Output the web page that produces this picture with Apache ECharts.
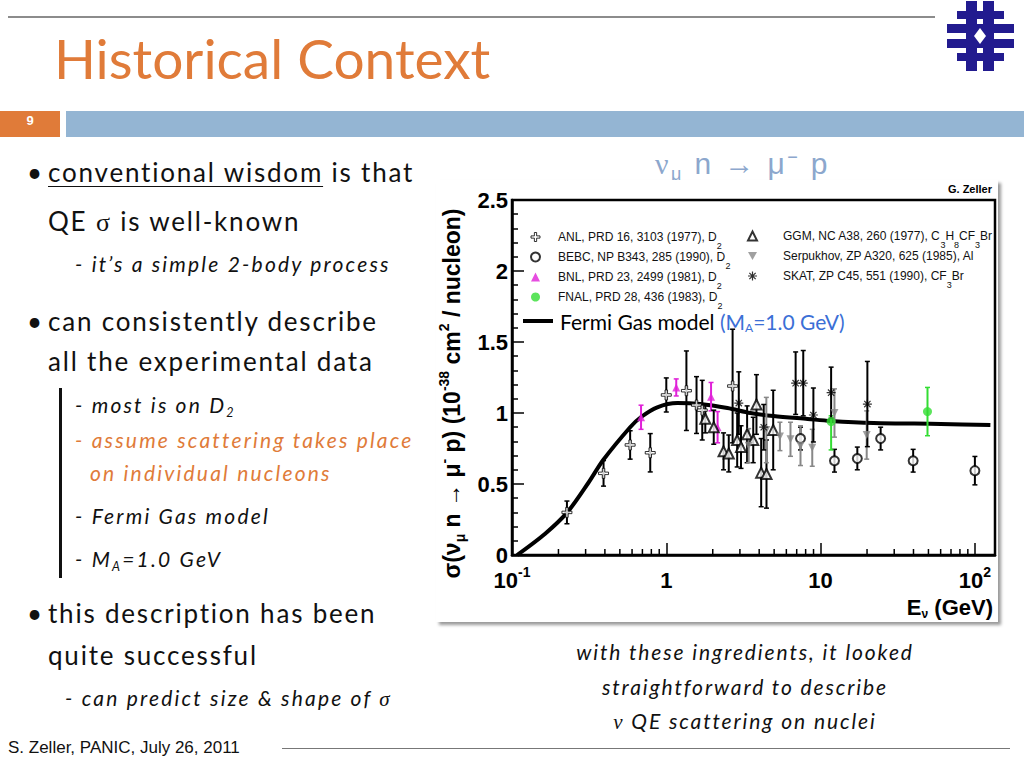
<!DOCTYPE html>
<html><head><meta charset="utf-8">
<script src="https://cdn.jsdelivr.net/npm/echarts@6/dist/echarts.min.js"></script>
<style>
html,body{margin:0;padding:0;width:1024px;height:768px;overflow:hidden;background:#fff;}
.a{position:absolute;white-space:nowrap;font-family:Lato,sans-serif;color:#111;}
.b{font-size:26px;line-height:30px;letter-spacing:1.8px;}
.i{font-size:21px;line-height:26px;font-style:italic;letter-spacing:2.2px;}
.o{color:#e07b39;}
.cap{font-size:21px;line-height:28px;font-style:italic;letter-spacing:1.9px;width:420px;left:535px;text-align:center;}
sub{font-size:60%;vertical-align:-0.35em;line-height:0;}
sup{font-size:60%;vertical-align:0.6em;line-height:0;}
.serif{font-family:"Liberation Serif",serif;}
</style></head><body>
<!-- slide decoration -->
<div style="position:absolute;left:8px;top:16px;width:927px;height:2px;background:#8c8c8c"></div>
<div class="a" style="left:54px;top:25px;font-size:55px;line-height:66px;color:#e07b39;">Historical Context</div>
<svg style="position:absolute;left:940px;top:0" width="84" height="75" viewBox="940 0 84 75">
  <g fill="#221b8f">
    <rect x="966" y="1" width="11" height="70"/>
    <rect x="983" y="1" width="11" height="70"/>
    <rect x="957" y="11" width="47" height="8"/>
    <rect x="947" y="24" width="67" height="9"/>
    <rect x="947" y="39" width="67" height="9"/>
    <rect x="957" y="53" width="47" height="8"/>
  </g>
  <path d="M980 28 L986 36 L980 44 L974 36 Z" fill="#fff"/>
</svg>
<div style="position:absolute;left:0;top:111px;width:60px;height:26px;background:#e07b39"></div>
<div class="a" style="left:0;top:111px;width:60px;text-align:center;font-family:'Liberation Sans';font-weight:bold;font-size:13px;line-height:20px;color:#fff">9</div>
<div style="position:absolute;left:66px;top:111px;width:958px;height:26px;background:#94b5d3"></div>

<!-- left text -->
<div class="a b" style="left:27px;top:157px">•</div>
<div class="a b" style="left:48px;top:157px"><u style="text-underline-offset:4px;text-decoration-thickness:1px">conventional wisdom</u> is that</div>
<div class="a b" style="left:48px;top:206px">QE <span class="serif">σ</span> is well-known</div>
<div class="a i" style="left:75px;top:251px">- it’s a simple 2-body process</div>
<div class="a b" style="left:27px;top:306px">•</div>
<div class="a b" style="left:48px;top:306px">can consistently describe</div>
<div class="a b" style="left:48px;top:346px">all the experimental data</div>
<div style="position:absolute;left:59px;top:388px;width:3px;height:190px;background:#111"></div>
<div class="a i" style="left:75px;top:392px">- most is on D<sub>2</sub></div>
<div class="a i o" style="left:75px;top:427px">- assume scattering takes place</div>
<div class="a i o" style="left:90px;top:460px">on individual nucleons</div>
<div class="a i" style="left:75px;top:503px">- Fermi Gas model</div>
<div class="a i" style="left:75px;top:546px">- M<sub>A</sub>=1.0 GeV</div>
<div class="a b" style="left:27px;top:598px">•</div>
<div class="a b" style="left:48px;top:598px">this description has been</div>
<div class="a b" style="left:48px;top:640px">quite successful</div>
<div class="a i" style="left:65px;top:685px">- can predict size &amp; shape of <span class="serif">σ</span></div>
<div class="a" style="left:8px;top:737px;font-family:'Liberation Sans';font-size:17px;line-height:22px">S. Zeller, PANIC, July 26, 2011</div>
<div style="position:absolute;left:282px;top:748px;width:728px;height:1px;background:#777"></div>

<!-- right caption -->
<div class="a cap" style="top:638px">with these ingredients, it looked</div>
<div class="a cap" style="top:673px">straightforward to describe</div>
<div class="a cap" style="top:707px"><span class="serif">ν</span> QE scattering on nuclei</div>

<!-- chart title -->
<div class="a" style="left:655px;top:146px;font-family:'Liberation Sans';font-size:30px;line-height:36px;letter-spacing:2.4px;color:#8ca7cd"><span class="serif">ν</span><sub>μ</sub> n → μ<sup>−</sup> p</div>

<div id="chart" style="position:absolute;left:436px;top:180px;width:562px;height:442px;background:#fff;box-shadow:3px 3px 3px #9a9a9a;"></div>

<script>
// ---------- data ----------
// ANL, PRD 16, 3103 (1977), D2  (open cross)
const anlE   = [0.227, 0.392, 0.583, 0.787, 1.00, 1.35, 1.57, 1.71, 2.69];
const anlS   = [0.30, 0.575, 0.775, 0.72, 1.127, 1.157, 1.056, 1.02, 1.19];
const anlErr = [0.08, 0.09, 0.10, 0.135, 0.12, 0.28, 0.20, 0.21, 0.40];
// BEBC, NP B343, 285 (1990), D2  (open circle)
const bebcE   = [7.41, 12.3, 17.3, 24.5, 39.8, 100];
const bebcS   = [0.82, 0.664, 0.68, 0.82, 0.664, 0.594];
const bebcErr = [0.08, 0.08, 0.08, 0.08, 0.08, 0.10];
// BNL, PRD 23, 2499 (1981), D2  (magenta triangle)
const bnlE   = [0.686, 1.16, 1.95, 2.15];
const bnlS   = [0.97, 1.18, 1.115, 0.90];
const bnlErr = [0.085, 0.06, 0.10, 0.11];
// FNAL, PRD 28, 436 (1983), D2  (green circle)
const fnalE     = [11.7, 49.3];
const fnalS     = [0.94, 1.01];
const fnalErrLo = [0.20, 0.17];
const fnalErrHi = [0.04, 0.17];
// GGM, NC A38, 260 (1977), C3H8CF3Br  (open triangle)
const ggmE   = [1.79, 2.03, 2.35, 2.54, 2.88, 3.05, 3.34, 3.66, 3.84, 4.12, 4.46, 4.93];
const ggmS   = [0.96, 0.90, 0.73, 0.715, 0.81, 0.76, 0.85, 0.81, 1.06, 0.58, 0.57, 0.88];
const ggmErr = [0.10, 0.12, 0.13, 0.13, 0.19, 0.15, 0.20, 0.16, 0.21, 0.24, 0.24, 0.28];
// Serpukhov, ZP A320, 625 (1985), Al  (grey inverted triangle)
const serpE   = [3.42, 4.45, 5.45, 6.38, 7.41, 8.83, 12.3, 19.9];
const serpS   = [0.77, 0.88, 0.835, 0.815, 0.77, 0.755, 1.0, 0.845];
const serpErr = [0.12, 0.23, 0.10, 0.12, 0.14, 0.13, 0.17, 0.17];
// SKAT, ZP C45, 551 (1990), CF3Br  (asterisk)
const skatE   = [2.95, 4.28, 6.89, 7.72, 8.98, 11.7, 20.1];
const skatS   = [1.07, 0.90, 1.21, 1.21, 0.986, 1.143, 1.063];
const skatErr = [0.22, 0.16, 0.22, 0.23, 0.19, 0.18, 0.30];
// Fermi Gas model (MA = 1.0 GeV)
const fgE = [0.108, 0.164, 0.228, 0.312, 0.39, 0.583, 0.683, 0.874, 1.18, 1.66, 2.49, 3.51, 4.95, 8.24, 11.6, 22.1, 60, 126];
const fgS = [0, 0.15, 0.30, 0.507, 0.669, 0.90, 0.97, 1.04, 1.07, 1.063, 1.035, 1.0, 0.979, 0.958, 0.944, 0.93, 0.923, 0.915];
// axis ticks
const yTicks = [0, 0.5, 1, 1.5, 2, 2.5];
const xDecades = [0.1, 1, 10, 100];
const xTickLabels = ['{m|10}{sup|-1}', '{m|1}', '{m|10}', '{m|10}{sup|2}'];
const minorMult = [2, 3, 4, 5, 6, 7, 8, 9];

// ---------- build ----------
const tuples = (E, S, lo, hi) => E.map((e, i) => [e, S[i], lo[i], (hi || lo)[i]]);
function errSeries(data, color) {
  return {
    type: 'custom', silent: true, z: 3, data: data, encode: {x: 0, y: 1},
    renderItem: function (params, api) {
      const x = api.value(0), y = api.value(1), lo = api.value(2), hi = api.value(3);
      const p1 = api.coord([x, y - lo]), p2 = api.coord([x, y + hi]);
      const w = 2.5;
      return {type: 'group', children: [
        {type: 'line', shape: {x1: p1[0], y1: p1[1], x2: p2[0], y2: p2[1]}, style: {stroke: color, lineWidth: 2}},
        {type: 'line', shape: {x1: p1[0] - w, y1: p1[1], x2: p1[0] + w, y2: p1[1]}, style: {stroke: color, lineWidth: 1.5}},
        {type: 'line', shape: {x1: p2[0] - w, y1: p2[1], x2: p2[0] + w, y2: p2[1]}, style: {stroke: color, lineWidth: 1.5}}
      ]};
    }
  };
}
const crossPath = 'path://M3,0 L5,0 L5,3 L8,3 L8,5 L5,5 L5,8 L3,8 L3,5 L0,5 L0,3 L3,3 Z';
const starPath = 'path://M0,5 L10,5 M5,0 L5,10 M1.5,1.5 L8.5,8.5 M8.5,1.5 L1.5,8.5';
const downTriPath = 'path://M0,0 L10,0 L5,9 Z';

const sets = [
  {name: 'ANL', data: tuples(anlE, anlS, anlErr), bar: '#000', symbol: crossPath, size: 10, style: {color: '#fff', borderColor: '#000', borderWidth: 1}},
  {name: 'BEBC', data: tuples(bebcE, bebcS, bebcErr), bar: '#000', symbol: 'emptyCircle', size: 9, style: {color: '#000', borderWidth: 1.2}},
  {name: 'BNL', data: tuples(bnlE, bnlS, bnlErr), bar: '#e020d8', symbol: 'triangle', size: 8, style: {color: '#e020d8'}},
  {name: 'FNAL', data: tuples(fnalE, fnalS, fnalErrLo, fnalErrHi), bar: '#33dd33', symbol: 'circle', size: 9, style: {color: '#33dd33'}},
  {name: 'GGM', data: tuples(ggmE, ggmS, ggmErr), bar: '#000', symbol: 'emptyTriangle', size: 10, style: {color: '#000', borderWidth: 1.1}},
  {name: 'Serpukhov', data: tuples(serpE, serpS, serpErr), bar: '#888', symbol: downTriPath, size: 8, style: {color: '#888'}},
  {name: 'SKAT', data: tuples(skatE, skatS, skatErr), bar: '#000', symbol: starPath, size: 9, style: {color: 'rgba(0,0,0,0)', borderColor: '#000', borderWidth: 1.2}}
];
const legendText = {
  ANL: 'ANL, PRD 16, 3103 (1977), D{s|2}',
  BEBC: 'BEBC, NP B343, 285 (1990), D{s|2}',
  BNL: 'BNL, PRD 23, 2499 (1981), D{s|2}',
  FNAL: 'FNAL, PRD 28, 436 (1983), D{s|2}',
  GGM: 'GGM, NC A38, 260 (1977), C{s|3}H{s|8}CF{s|3}Br',
  Serpukhov: 'Serpukhov, ZP A320, 625 (1985), Al',
  SKAT: 'SKAT, ZP C45, 551 (1990), CF{s|3}Br',
  Fermi: 'Fermi Gas model {bl|(M}{bs|A}{bl|=1.0 GeV)}'
};
const legendItem = s => ({name: s.name, icon: s.symbol, itemStyle: {color: s.style.color, borderColor: s.style.borderColor || s.style.color, borderWidth: s.style.borderWidth || 0}});

const series = [{
  name: 'Fermi', type: 'line', data: fgE.map((e, i) => [e, fgS[i]]), symbol: 'none', smooth: 0.3, z: 2,
  lineStyle: {color: '#000', width: 4}, itemStyle: {color: '#000'}, silent: true
}, {
  type: 'custom', silent: true, z: 5,
  data: xDecades.slice(0, 3).flatMap(d => minorMult.map(m => [d * m, 0])),
  encode: {x: 0, y: 1},
  renderItem: function (params, api) {
    const p = api.coord([api.value(0), 0]);
    return {type: 'line', shape: {x1: p[0], y1: p[1], x2: p[0], y2: p[1] - 6}, style: {stroke: '#000', lineWidth: 1.5}};
  }
}];
sets.forEach(s => {
  series.push(errSeries(s.data, s.bar));
  series.push({name: s.name, type: 'scatter', data: s.data, encode: {x: 0, y: 1}, symbol: s.symbol,
    symbolSize: s.size, itemStyle: s.style, z: 4, silent: true});
});

const legendBase = {
  orient: 'vertical', padding: 0, itemWidth: 9, itemHeight: 9, itemGap: -6, selectedMode: false,
  formatter: n => legendText[n],
  textStyle: {fontFamily: 'Liberation Sans', fontSize: 12, lineHeight: 26, color: '#111',
    rich: {s: {fontFamily: 'Liberation Sans', fontSize: 9, lineHeight: 8, verticalAlign: 'bottom', color: '#111'}}}
};
const chart = echarts.init(document.getElementById('chart'), null, {renderer: 'svg'});
chart.setOption({
  animation: false,
  grid: {left: 76, top: 20, width: 483, height: 355, show: true, borderColor: '#000', borderWidth: 2.5,
    backgroundColor: 'transparent', containLabel: false, outerBoundsMode: 'none'},
  xAxis: {
    type: 'log', logBase: 10, min: 0.1, max: 135, splitNumber: 3,
    axisLine: {lineStyle: {color: '#000', width: 2.5}},
    axisTick: {inside: true, length: 12, lineStyle: {color: '#000', width: 1.5}},
    splitLine: {show: false},
    axisLabel: {
      margin: 10, color: '#000',
      formatter: v => { const k = xDecades.findIndex(d => Math.abs(Math.log10(v) - Math.log10(d)) < 1e-6); return k < 0 ? '' : xTickLabels[k]; },
      rich: {
        m: {fontFamily: 'Liberation Sans', fontWeight: 'bold', fontSize: 22, lineHeight: 26, verticalAlign: 'bottom', color: '#000'},
        sup: {fontFamily: 'Liberation Sans', fontWeight: 'bold', fontSize: 14, lineHeight: 14, verticalAlign: 'top', color: '#000'}
      }
    }
  },
  yAxis: {
    type: 'value', min: yTicks[0], max: yTicks[yTicks.length - 1], interval: 0.5,
    axisLine: {lineStyle: {color: '#000', width: 2.5}},
    axisTick: {inside: true, length: 12, lineStyle: {color: '#000', width: 1.5}},
    minorTick: {show: true, splitNumber: 5, length: 6, lineStyle: {color: '#000', width: 1.5}},
    splitLine: {show: false},
    axisLabel: {margin: 4, color: '#000', fontFamily: 'Liberation Sans', fontWeight: 'bold', fontSize: 22, formatter: v => String(v)},
    name: 'σ(ν{sub|μ} n → μ{sup|-} p) (10{sup|-38} cm{sup|2} / nucleon)',
    nameLocation: 'middle', nameRotate: 90, nameGap: 44,
    nameTextStyle: {fontFamily: 'Liberation Sans', fontWeight: 'bold', fontSize: 23, color: '#000', lineHeight: 30, padding: [0, 32, 0, 0],
      rich: {
        sub: {fontFamily: 'Liberation Sans', fontWeight: 'bold', fontSize: 14, lineHeight: 10, verticalAlign: 'bottom', color: '#000'},
        sup: {fontFamily: 'Liberation Sans', fontWeight: 'bold', fontSize: 14, lineHeight: 14, verticalAlign: 'top', color: '#000'}
      }}
  },
  legend: [
    Object.assign({}, legendBase, {data: sets.slice(0, 4).map(legendItem), left: 94, top: 44,
      textStyle: Object.assign({}, legendBase.textStyle, {padding: [0, 0, 0, 13]})}),
    Object.assign({}, legendBase, {data: sets.slice(4).map(legendItem), left: 311, top: 43,
      textStyle: Object.assign({}, legendBase.textStyle, {padding: [0, 0, 0, 21]})}),
    {data: [{name: 'Fermi', icon: 'rect'}], orient: 'vertical', left: 87, top: 129, padding: 0, itemWidth: 30, itemHeight: 4,
      selectedMode: false, formatter: n => legendText[n],
      textStyle: {fontFamily: 'Lato', fontSize: 21, lineHeight: 24, color: '#000', padding: [0, 0, 0, 2],
        rich: {bl: {fontFamily: 'Lato', fontSize: 21, color: '#3b6fd6'}, bs: {fontFamily: 'Lato', fontSize: 12, lineHeight: 8, verticalAlign: 'bottom', color: '#3b6fd6'}}}}
  ],
  graphic: [
    {type: 'text', right: 6, top: 3, style: {text: 'G. Zeller', font: 'bold 11px "Liberation Sans"', fill: '#000'}},
    {type: 'text', right: 5, top: 414, style: {text: 'E{sub|ν} (GeV)', font: 'bold 22px "Liberation Sans"', fill: '#000', lineHeight: 26,
      rich: {sub: {font: 'bold 12px "Liberation Sans"', fill: '#000', lineHeight: 8, verticalAlign: 'bottom'}}}}
  ],
  series: series
});
</script>
</body></html>
